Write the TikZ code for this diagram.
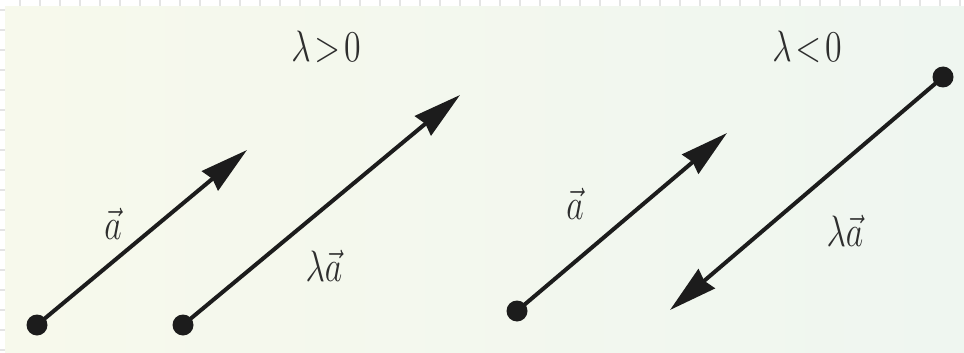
\documentclass[tikz,border=0pt]{standalone}
\usetikzlibrary{arrows.meta}
\definecolor{bgL}{HTML}{F7F9EC}
\definecolor{bgR}{HTML}{EFF6F0}
\definecolor{ink}{HTML}{1C1C1C}
\definecolor{txt}{HTML}{2E2E2E}
\definecolor{grid}{HTML}{E4E4E4}
\begin{document}
\begin{tikzpicture}[x=1pt,y=-1pt,
  vec/.style={draw=ink,line width=4pt,-{Stealth[length=48pt,width=25pt,inset=3pt]}},
  dot/.style={circle,fill=ink,inner sep=0pt,minimum size=21pt},
  lbl/.style={text=txt,font=\Large,inner sep=0pt,xscale=2.35,yscale=3.05,transform shape}]
\useasboundingbox (0,0) rectangle (964,353);
\fill[white] (0,0) rectangle (964,353);
\foreach \x in {20,40,...,960} \fill[grid] (\x-1,0) rectangle (\x+1,7);
\foreach \y in {10,30,...,350} \fill[grid] (0,\y-1) rectangle (5,\y+1);
\shade[left color=bgL,right color=bgR] (5,7) rectangle (964,353);
% left panel
\node[dot] (s1) at (37,325) {};
\coordinate (t1) at (247,150);
\node[dot] (s2) at (183,325) {};
\coordinate (t2) at (460,95);
\draw[vec] (s1.center) -- (t1);
\draw[vec] (s2.center) -- (t2);
\node[lbl] (l1) at (113,224) {$\vec{a}$};
\node[lbl] (l2) at (324,266) {$\lambda\vec{a}$};
\node[lbl] (h1) at (326,47) {$\lambda\!>\!0$};
% right panel
\node[dot] (s3) at (517,311) {};
\coordinate (t3) at (727,133);
\node[dot] (s4) at (943,77) {};
\coordinate (t4) at (670,310);
\draw[vec] (s3.center) -- (t3);
\draw[vec] (s4.center) -- (t4);
\node[lbl] (l3) at (575,204) {$\vec{a}$};
\node[lbl] (l4) at (845,231) {$\lambda\vec{a}$};
\node[lbl] (h2) at (807,47) {$\lambda\!<\!0$};
\end{tikzpicture}
\end{document}
